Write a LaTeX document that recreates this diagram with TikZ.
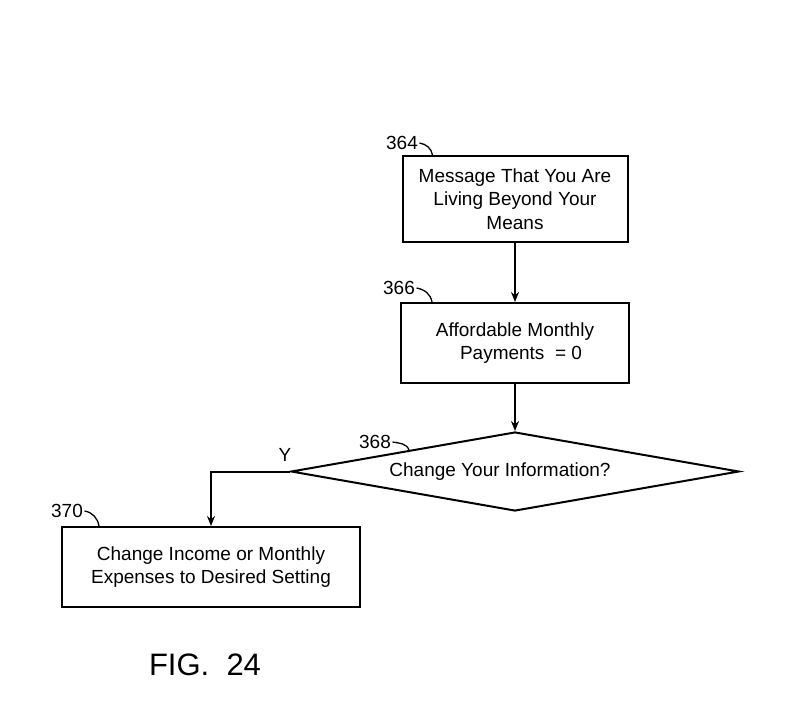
\documentclass[tikz,border=0pt]{standalone}
\usepackage{fontspec}
\setmainfont{Liberation Sans}
\usetikzlibrary{shapes.geometric,calc,arrows.meta}

\begin{document}
\begin{tikzpicture}[x=1pt,y=-1pt,line width=2pt,>={Stealth[length=10pt,width=8pt]},
  stepbox/.style={draw,rectangle,align=center,inner sep=0pt,font=\fontsize{19}{23.5}\selectfont},
  askbox/.style={draw,diamond,aspect=5.7,inner sep=0pt,minimum width=448pt,minimum height=79pt,font=\fontsize{19}{23.5}\selectfont},
  refnum/.style={font=\fontsize{19}{23}\selectfont,inner sep=1pt},
  leader/.style={line width=1.3pt}]
  \useasboundingbox (0,0) rectangle (800,723);
  \node[stepbox,minimum width=225pt,minimum height=86pt] (msg) at (515,199) {Message That You Are\\Living Beyond Your\\Means};
  \node[stepbox,minimum width=228pt,minimum height=80pt] (pay) at (515,343) {Affordable Monthly\\\hspace*{12pt}Payments \ = 0};
  \node[askbox] (ask) at (515,471.5) {Change Your Information?\hspace*{30pt}};
  \node[stepbox,minimum width=298pt,minimum height=80pt] (change) at (211,567) {Change Income or Monthly\\Expenses to Desired Setting};
  \draw[->] (msg) -- (pay);
  \draw[->] (pay) -- (ask);
  \draw[->] (ask.west) -| (change.north);
  \node[refnum] (yes) at (285,455) {Y};
  \begin{scope}[leader]
   \node[refnum] (n364) at (402,143) {364};
   \coordinate (c364) at ($(msg.north west)+(31,0)$);
   \draw (n364.east) to[out=-10,in=100] (c364);
   \node[refnum] (n366) at (399,288) {366};
   \coordinate (c366) at ($(pay.north west)+(32,0)$);
   \draw (n366.east) to[out=-10,in=100] (c366);
   \node[refnum] (n368) at (375,442) {368};
   \coordinate (c368) at (409,450);
   \draw (n368.east) to[out=-10,in=110] (c368);
   \node[refnum] (n370) at (67,511) {370};
   \coordinate (c370) at ($(change.north west)+(38,0)$);
   \draw (n370.east) to[out=-10,in=100] (c370);
  \end{scope}
  \node[font=\fontsize{31}{36}\selectfont] (fig) at (205,665) {FIG.\ \ 24};
\end{tikzpicture}
\end{document}
